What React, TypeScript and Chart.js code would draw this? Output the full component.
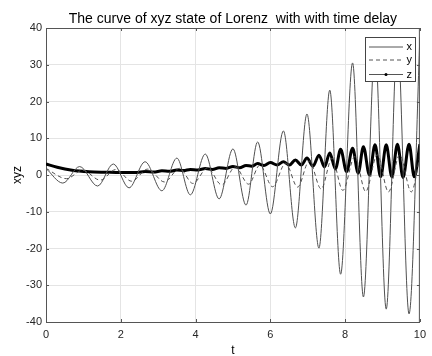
import React, { useEffect, useRef } from "react";
import { Chart, registerables } from "chart.js";

Chart.register(...registerables);

const xTimes = [0, 0.45, 0.9, 1.38, 1.8, 2.22, 2.65, 3.1, 3.5, 3.86, 4.26, 4.63, 5.0, 5.35, 5.66, 6.0, 6.35, 6.67, 6.98, 7.3, 7.59, 7.88, 8.2, 8.49, 8.8, 9.1, 9.4, 9.71, 10];
const xValues = [1.8, -2.2, 2.3, -3.0, 3.0, -3.5, 3.6, -4.3, 4.6, -5.4, 5.7, -6.5, 7.1, -8.2, 9.0, -10.6, 12.0, -14.4, 16.6, -19.9, 23.1, -27.0, 30.5, -33.2, 34.5, -36.5, 37.0, -37.8, 37.5];

const yTimes = [0, 0.55, 0.98, 1.45, 1.87, 2.29, 2.72, 3.17, 3.57, 3.93, 4.32, 4.7, 5.06, 5.42, 5.72, 6.06, 6.41, 6.73, 7.04, 7.36, 7.65, 7.94, 8.26, 8.55, 8.86, 9.16, 9.46, 9.77, 10];
const yValues = [1.8, -1.0, 1.3, -1.4, 1.5, -1.7, 1.6, -1.9, 1.8, -2.3, 1.9, -2.7, 2.2, -2.5, 2.7, -3.2, 3.2, -3.3, 3.8, -3.8, 4.5, -4.2, 5.0, -4.5, 5.5, -4.6, 5.5, -4.6, 5.0];

const zTimes = [0, 0.3, 0.7, 1.15, 1.6, 2.0, 2.44, 2.65, 2.88, 3.1, 3.3, 3.5, 3.68, 3.86, 4.06, 4.26, 4.45, 4.63, 4.82, 5.0, 5.18, 5.35, 5.5, 5.66, 5.83, 6.0, 6.18, 6.35, 6.51, 6.67, 6.83, 6.98, 7.14, 7.3, 7.45, 7.59, 7.74, 7.88, 8.04, 8.2, 8.35, 8.49, 8.65, 8.8, 8.95, 9.1, 9.25, 9.4, 9.55, 9.71, 9.85, 10];
const zValues = [3.0, 2.1, 1.3, 0.9, 0.75, 0.65, 0.7, 0.95, 0.8, 1.15, 1.0, 1.35, 1.2, 1.5, 1.35, 1.75, 1.5, 2.0, 1.8, 2.3, 2.0, 2.6, 2.4, 3.1, 2.6, 3.4, 2.7, 3.6, 2.7, 4.1, 2.7, 4.6, 2.4, 5.4, 2.2, 6.0, 1.6, 7.0, 0.9, 7.3, 0.5, 7.7, 0.0, 8.2, -0.5, 8.2, -0.5, 8.4, -0.7, 8.4, -0.5, 8.4];

const legendLabels = ["x", "y", "z"];
const xTicks = [0, 2, 4, 6, 8, 10];
const yTicks = [-40, -30, -20, -10, 0, 10, 20, 30, 40];

const FONT = "'Liberation Sans', Arial, Helvetica, sans-serif";

const pts = (ts: number[], vs: number[]) => ts.map((t, i) => ({ x: t, y: vs[i] }));

const boxPlugin = {
  id: "matlabBox",
  afterDatasetsDraw(chart: any) {
    const { ctx, chartArea, scales } = chart;
    const { left, right, top, bottom } = chartArea;
    ctx.save();
    ctx.strokeStyle = "#555";
    ctx.lineWidth = 1;
    ctx.beginPath();
    ctx.moveTo(left, top + 0.5);
    ctx.lineTo(right, top + 0.5);
    ctx.moveTo(right - 0.5, top);
    ctx.lineTo(right - 0.5, bottom);
    ctx.stroke();
    ctx.beginPath();
    xTicks.forEach((v) => {
      const px = Math.round(scales.x.getPixelForValue(v)) + 0.5;
      ctx.moveTo(px, bottom);
      ctx.lineTo(px, bottom - 3);
      ctx.moveTo(px, top);
      ctx.lineTo(px, top + 3);
    });
    yTicks.forEach((v) => {
      const py = Math.round(scales.y.getPixelForValue(v)) + 0.5;
      ctx.moveTo(left, py);
      ctx.lineTo(left + 3, py);
      ctx.moveTo(right, py);
      ctx.lineTo(right - 3, py);
    });
    ctx.stroke();

    // legend
    const lx = 365.5, ly = 37.5, lw = 50, lh = 44;
    ctx.fillStyle = "#fff";
    ctx.fillRect(lx, ly, lw, lh);
    ctx.strokeStyle = "#444";
    ctx.lineWidth = 1;
    ctx.strokeRect(lx, ly, lw, lh);
    const rows = [47, 60, 74.5];
    ctx.font = `11px ${FONT}`;
    ctx.textBaseline = "middle";
    ctx.textAlign = "left";
    rows.forEach((ry, i) => {
      ctx.beginPath();
      ctx.strokeStyle = "#555";
      ctx.lineWidth = 1;
      if (i === 1) ctx.setLineDash([4, 3]);
      else ctx.setLineDash([]);
      ctx.moveTo(369, ry);
      ctx.lineTo(403, ry);
      ctx.stroke();
      ctx.setLineDash([]);
      if (i === 2) {
        ctx.fillStyle = "#000";
        ctx.beginPath();
        ctx.arc(386, ry, 1.5, 0, Math.PI * 2);
        ctx.fill();
      }
      ctx.fillStyle = "#000";
      ctx.fillText(legendLabels[i], 406.5, ry);
    });
    ctx.restore();
  },
};

export default function App() {
  const ref = useRef<HTMLCanvasElement | null>(null);
  useEffect(() => {
    document.body.style.margin = "0";
    const canvas = ref.current;
    if (!canvas) return;
    const chart = new Chart(canvas, {
      type: "line",
      data: {
        datasets: [
          {
            label: legendLabels[0],
            data: pts(xTimes, xValues),
            borderColor: "#505050",
            borderWidth: 1,
            pointRadius: 0,
            cubicInterpolationMode: "monotone",
            fill: false,
          },
          {
            label: legendLabels[1],
            data: pts(yTimes, yValues),
            borderColor: "#505050",
            borderWidth: 1,
            borderDash: [4, 3],
            pointRadius: 0,
            cubicInterpolationMode: "monotone",
            fill: false,
          },
          {
            label: legendLabels[2],
            data: pts(zTimes, zValues),
            borderColor: "#000",
            borderWidth: 3,
            pointRadius: 0,
            cubicInterpolationMode: "monotone",
            fill: false,
          },
        ],
      },
      options: {
        animation: false,
        responsive: false,
        devicePixelRatio: 1,
        layout: { padding: { left: 0, right: 8, top: 0, bottom: 0 } },
        plugins: {
          legend: { display: false },
          tooltip: { enabled: false },
          title: {
            display: true,
            fullSize: false,
            text: "The curve of xyz state of Lorenz  with with time delay",
            color: "#000",
            font: { family: FONT, size: 14, weight: "normal", lineHeight: 1.2 },
            padding: { top: 11, bottom: 0.2 },
          },
        },
        scales: {
          x: {
            type: "linear",
            min: 0,
            max: 10,
            afterFit: (s: any) => { s.height = 34; },
            afterBuildTicks: (s: any) => { s.ticks = xTicks.map((v) => ({ value: v })); },
            ticks: { color: "#262626", font: { family: FONT, size: 11 }, padding: 6, maxRotation: 0 },
            grid: { color: "#e4e4e4", drawTicks: false },
            border: { display: true, color: "#555" },
            title: { display: true, text: "t", color: "#000", font: { family: FONT, size: 12 }, padding: { top: 0, bottom: -2 } },
          },
          y: {
            type: "linear",
            min: -40,
            max: 40,
            afterFit: (s: any) => { s.width = 46; },
            afterBuildTicks: (s: any) => { s.ticks = yTicks.map((v) => ({ value: v })); },
            ticks: { color: "#262626", font: { family: FONT, size: 11 }, padding: 4 },
            grid: { color: "#e4e4e4", drawTicks: false },
            border: { display: true, color: "#555" },
            title: { display: true, text: "xyz", color: "#000", font: { family: FONT, size: 12 }, padding: { top: 10, bottom: 0 } },
          },
        },
      },
      plugins: [boxPlugin],
    } as any);
    return () => chart.destroy();
  }, []);
  return (
    <div style={{ width: 432, height: 356 }}>
      <canvas ref={ref} width={432} height={356} style={{ width: 432, height: 356 }} />
    </div>
  );
}
